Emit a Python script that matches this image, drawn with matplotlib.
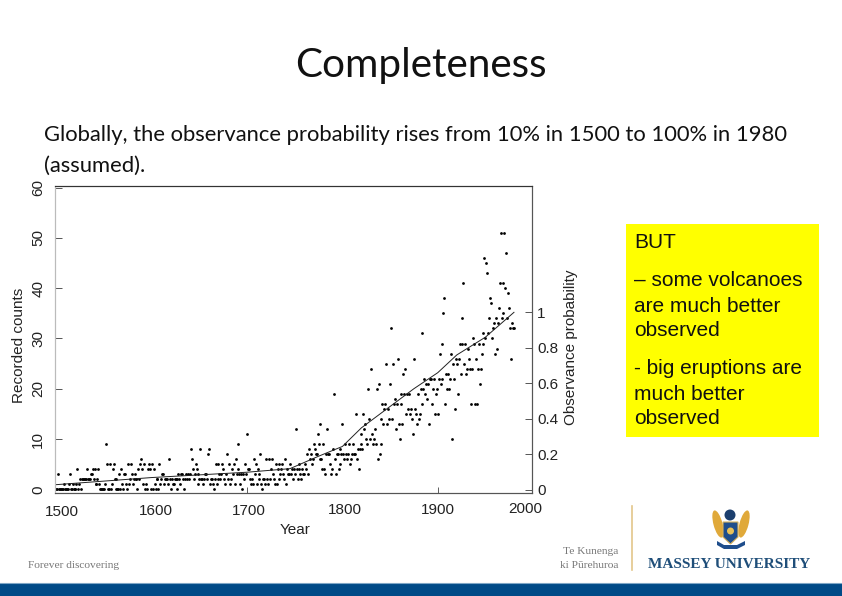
import numpy as np
import matplotlib
matplotlib.use("Agg")
import matplotlib.pyplot as plt
from matplotlib.patches import Rectangle, Polygon, Ellipse

# Yearly recorded counts, one row per decade
counts = [
    0, 0, 3, 0, 0, 0, 0, 0, 1, 0,
    0, 0, 0, 1, 3, 0, 0, 1, 0, 0,
    0, 1, 4, 0, 1, 2, 0, 2, 2, 2,
    2, 2, 4, 2, 2, 2, 3, 3, 4, 2,
    4, 1, 1, 2, 4, 1, 0, 0, 0, 0,
    0, 1, 9, 5, 0, 0, 5, 0, 1, 4,
    5, 2, 0, 2, 0, 0, 3, 0, 4, 1,
    0, 3, 3, 1, 0, 5, 1, 2, 5, 3,
    1, 2, 3, 2, 2, 0, 4, 2, 5, 6,
    4, 1, 5, 0, 1, 0, 4, 5, 4, 0,
    5, 0, 4, 1, 0, 2, 2, 0, 5, 1,
    2, 3, 3, 1, 2, 2, 2, 1, 6, 2,
    0, 2, 1, 1, 2, 2, 0, 2, 3, 2,
    1, 3, 3, 2, 0, 2, 3, 2, 3, 2,
    3, 8, 6, 4, 2, 3, 5, 4, 3, 1,
    2, 8, 2, 2, 1, 2, 3, 3, 2, 7,
    8, 1, 2, 2, 1, 0, 2, 5, 1, 2,
    5, 3, 2, 3, 5, 4, 2, 1, 3, 7,
    2, 5, 1, 2, 4, 3, 5, 1, 6, 3,
    4, 9, 3, 1, 3, 0, 3, 2, 5, 3,
    11, 4, 4, 2, 1, 2, 1, 6, 3, 5,
    1, 4, 2, 3, 7, 1, 0, 2, 2, 1,
    6, 2, 1, 6, 2, 4, 6, 3, 2, 1,
    5, 1, 4, 5, 2, 3, 4, 5, 3, 2,
    6, 1, 4, 3, 3, 5, 3, 4, 2, 4,
    3, 12, 4, 2, 5, 4, 3, 2, 4, 3,
    3, 5, 4, 7, 3, 8, 6, 7, 5, 6,
    9, 8, 7, 7, 11, 9, 13, 6, 6, 4,
    9, 4, 3, 7, 12, 7, 7, 5, 3, 4,
    8, 19, 6, 3, 7, 7, 4, 5, 8, 7,
    13, 7, 6, 9, 7, 6, 7, 9, 5, 6,
    7, 9, 7, 7, 15, 6, 8, 4, 8, 11,
    9, 8, 15, 12, 13, 10, 9, 20, 14, 10,
    24, 11, 9, 10, 12, 9, 20, 6, 21, 7,
    9, 14, 17, 13, 16, 17, 25, 13, 16, 14,
    21, 32, 14, 25, 17, 18, 12, 17, 26, 13,
    10, 19, 17, 13, 23, 19, 24, 15, 19, 16,
    19, 15, 16, 14, 11, 26, 16, 15, 13, 19,
    14, 15, 20, 31, 17, 20, 22, 19, 21, 18,
    21, 13, 22, 22, 17, 20, 22, 15, 19, 20,
    15, 22, 27, 21, 29, 22, 35, 38, 17, 23,
    20, 23, 20, 22, 27, 10, 25, 22, 16, 26,
    25, 19, 26, 29, 23, 29, 34, 41, 25, 29,
    23, 24, 28, 26, 24, 17, 24, 30, 29, 17,
    26, 17, 24, 29, 21, 24, 27, 29, 31, 46,
    30, 45, 43, 31, 34, 38, 37, 30, 32, 33,
    27, 34, 28, 33, 36, 41, 51, 34, 35, 41,
    51, 40, 47, 34, 39, 36, 32, 26, 33, 32,
    32,
]
years = 1500 + np.arange(len(counts))

curve_years = [1500, 1550, 1600, 1650, 1700, 1745, 1775, 1800, 1820, 1850, 1875, 1900, 1920, 1950, 1980]
curve_prob = [0.03, 0.05, 0.07, 0.085, 0.10, 0.12, 0.19, 0.245, 0.35, 0.47, 0.57, 0.66, 0.76, 0.86, 1.0]

year_labels = [1500, 1600, 1700, 1800, 1900, 2000]
count_ticks = [0, 10, 20, 30, 40, 50, 60]
prob_ticks = [0, 0.2, 0.4, 0.6, 0.8, 1]
prob_labels = ["0", "0.2", "0.4", "0.6", "0.8", "1"]

title = "Completeness"
body_lines = [
    "Globally, the observance probability rises from 10% in 1500 to 100% in 1980",
    "(assumed).",
]
box_lines = ["BUT", "– some volcanoes", "are much better", "observed",
             "- big eruptions are", "much better", "observed"]
box_y = [242, 281, 306, 331, 369, 394, 419]

W, H = 842, 596
fig = plt.figure(figsize=(W / 100, H / 100), dpi=100, facecolor="white")

# slide furniture, in pixel coordinates
bg = fig.add_axes([0, 0, 1, 1])
bg.set_xlim(0, W)
bg.set_ylim(H, 0)
bg.axis("off")

bg.text(420.5, 65, title, family="Lato", fontsize=29.2, ha="center", va="center", color="#111111")
bg.text(44, 135, body_lines[0], family="Lato", fontsize=15.8, ha="left", va="center", color="#111111")
bg.text(44, 166, body_lines[1], family="Lato", fontsize=15.8, ha="left", va="center", color="#111111")

# the pasted scan covers the bottom of the second text line
bg.add_patch(Rectangle((0, 177), 560, 340, fc="white", ec="none", zorder=3))

bg.add_patch(Rectangle((626, 224), 193, 213, fc="#ffff00", ec="none"))
for txt, y in zip(box_lines, box_y):
    bg.text(634, y, txt, family="Liberation Sans", fontsize=15, ha="left", va="center", color="#111111")

bg.add_patch(Rectangle((0, 583), W, 13, fc="#004a87", ec="none"))
bg.plot([0, W], [582.5, 582.5], color="#7fa6c6", lw=0.8)

bg.text(28, 566, "Forever discovering", family="Liberation Serif", fontsize=8.2, ha="left", va="center", color="#777777")
bg.text(618, 552, "Te Kunenga", family="Liberation Serif", fontsize=8.2, ha="right", va="center", color="#777777")
bg.text(618, 566, "ki Pūrehuroa", family="Liberation Serif", fontsize=8.2, ha="right", va="center", color="#777777")
bg.plot([631.5, 631.5], [506, 570], color="#e3c68a", lw=1.2)
bg.text(648, 564.5, "MASSEY UNIVERSITY", family="Liberation Serif", weight="bold", fontsize=11,
        ha="left", va="center", color="#1f4e79")

# crest
for cx, ang in [(718, -15), (744, 15)]:
    bg.add_patch(Ellipse((cx, 524), 9, 28, angle=ang, fc="#e0a93a", ec="none"))
bg.add_patch(Ellipse((730, 515), 11, 11, fc="#1c3f6e", ec="none"))
bg.add_patch(Polygon([(723, 522), (738, 522), (738, 537), (730.5, 544), (723, 537)], fc="#1f4e8c", ec="#d9b25a", lw=0.8))
bg.add_patch(Ellipse((730.5, 531), 7, 7, fc="#e8c15a", ec="none"))
bg.add_patch(Polygon([(717, 541), (724, 545), (737, 545), (745, 541), (745, 545), (737, 549), (724, 549), (717, 545)],
                     fc="#1f4e8c", ec="none"))

# scanned plot
left, right, top, bottom = 55, 531.7, 186, 493
ax = fig.add_axes([left / W, 1 - bottom / H, (right - left) / W, (bottom - top) / H], zorder=2)
ax.patch.set_alpha(0)
ax.plot(years, counts, "o", color="black", ms=2, mew=0)
ax.set_xlim(1498.5, 1998.6)
ax.set_ylim(-0.7, 60.3)
ax.set_xticks([1700, 1900])
ax.set_xticklabels([])
ax.set_yticks(count_ticks)
ax.set_yticklabels([str(v) for v in count_ticks], rotation=90, va="center", family="Liberation Sans", fontsize=11, color="#222222")
ax.tick_params(axis="x", direction="in", length=4, width=0.6, color="#444444")
ax.tick_params(axis="y", direction="in", length=5, width=0.7, color="#555555", pad=7)
# no tick marks survive in the scan at the two ends
for tick, val in zip(ax.yaxis.get_major_ticks(), count_ticks):
    if val in (0, 60):
        tick.tick1line.set_visible(False)

# scan is slightly skewed, so the year labels sit off their ticks
label_dx = [5.6, 4.3, 2, 2.4, 0.2, -8]
label_dy = [-19, -18.3, -17.8, -17.3, -16.7, -16.3]
for yr, dx, dy in zip(year_labels, label_dx, label_dy):
    ax.annotate(str(yr), xy=(yr, 0), xycoords=("data", "axes fraction"), xytext=(dx, dy), textcoords="offset pixels",
                ha="center", va="center", family="Liberation Sans", fontsize=11, color="#222222", annotation_clip=False)
bg.text(295, 530, "Year", family="Liberation Sans", fontsize=11, ha="center", va="center", color="#222222", zorder=4)
bg.text(19, 345, "Recorded counts", family="Liberation Sans", fontsize=11, rotation=90, ha="center", va="center", color="#222222", zorder=4)
bg.text(571, 347, "Observance probability", family="Liberation Sans", fontsize=11, rotation=90, ha="center", va="center", color="#222222", zorder=4)

ax2 = ax.twinx()
ax2.plot(curve_years, curve_prob, color="#222222", lw=0.7)
ax2.set_ylim(-0.017, 1.711)
ax2.set_yticks(prob_ticks)
ax2.set_yticklabels(prob_labels, family="Liberation Sans", fontsize=11, color="#222222")
ax2.tick_params(axis="y", direction="in", length=5, width=0.7, color="#555555", pad=4)
for a in (ax, ax2):
    for side, col in [("left", "#bbbbbb"), ("top", "#333333"), ("right", "#555555"), ("bottom", "#555555")]:
        a.spines[side].set_color(col)
        a.spines[side].set_linewidth(0.8)

fig.savefig("out.png", dpi=100)
